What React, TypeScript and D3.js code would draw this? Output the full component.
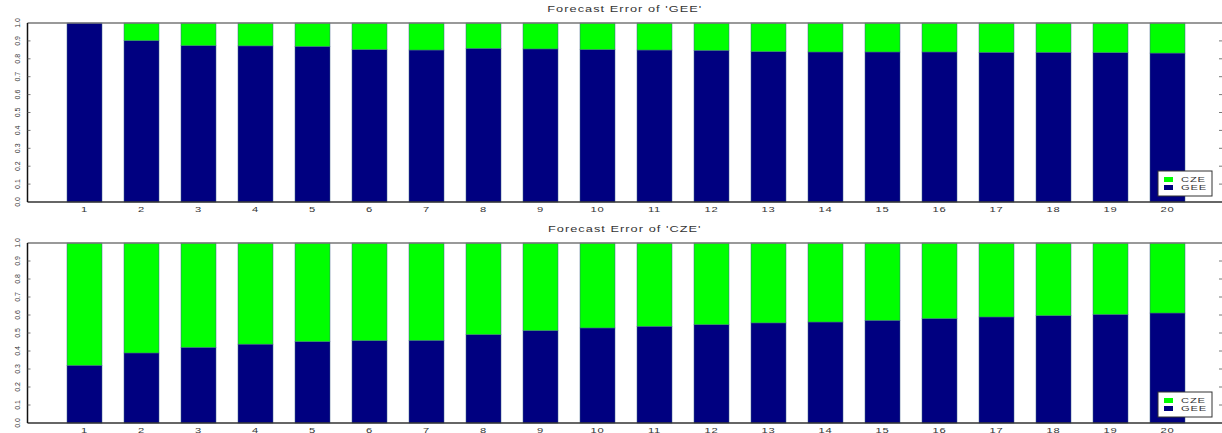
import React, { useEffect, useRef } from 'react';
import * as d3 from 'd3';

const periods = ['1', '2', '3', '4', '5', '6', '7', '8', '9', '10', '11', '12', '13', '14', '15', '16', '17', '18', '19', '20'];
const seriesNames = ['GEE', 'CZE'];
const yTicks = [0, 0.1, 0.2, 0.3, 0.4, 0.5, 0.6, 0.7, 0.8, 0.9, 1.0];

// share of forecast error variance explained by GEE (CZE is the rest up to 1)
const geeShareOfGee = [1.0, 0.901, 0.873, 0.872, 0.869, 0.851, 0.849, 0.858, 0.855, 0.851, 0.849, 0.847, 0.84, 0.838, 0.838, 0.838, 0.836, 0.836, 0.834, 0.832];
const geeShareOfCze = [0.32, 0.389, 0.42, 0.438, 0.452, 0.457, 0.459, 0.491, 0.513, 0.528, 0.537, 0.546, 0.556, 0.561, 0.57, 0.58, 0.589, 0.596, 0.603, 0.611];

const panels = [
  { title: "Forecast Error of 'GEE'", values: geeShareOfGee, top: 23, bottom: 202 },
  { title: "Forecast Error of 'CZE'", values: geeShareOfCze, top: 243, bottom: 423 },
];

const colors: Record<string, string> = { GEE: '#000080', CZE: '#00ff00' };
const FONT = '"Liberation Sans", Arial, sans-serif';

const App: React.FC = () => {
  const svgRef = useRef<SVGSVGElement>(null);

  useEffect(() => {
    if (!svgRef.current) return;
    const svg = d3.select(svgRef.current);
    svg.selectAll('*').remove();

    const xScale = d3.scaleLinear().domain([0, periods.length + 1]).range([27.5, 1224.5]);
    const unit = xScale(1) - xScale(0);
    const barWidth = unit * 0.614;

    panels.forEach(panel => {
      const g = svg.append('g');
      const yScale = d3.scaleLinear().domain([0, 1]).range([panel.bottom, panel.top]);

      const rows = periods.map((p, i) => ({ period: p, GEE: panel.values[i], CZE: 1 - panel.values[i] }));
      const stacked = d3.stack<any>().keys(seriesNames)(rows);

      // title
      g.append('text')
        .attr('transform', `translate(${(xScale(0) + 1222) / 2},${panel.top - 11}) scale(1.5,1)`)
        .attr('text-anchor', 'middle')
        .style('font-family', FONT)
        .style('font-size', '8.5px')
        .style('letter-spacing', '0.7px')
        .style('fill', '#333')
        .text(panel.title);

      // bars
      stacked.forEach(layer => {
        g.append('g')
          .selectAll('rect')
          .data(layer)
          .enter()
          .append('rect')
          .attr('x', (_d, i) => xScale(i + 1) - barWidth / 2)
          .attr('width', barWidth)
          .attr('y', d => yScale(d[1]))
          .attr('height', d => yScale(d[0]) - yScale(d[1]))
          .attr('fill', colors[layer.key])
          .attr('stroke', '#3d5f86')
          .attr('stroke-width', 0.5);
      });

      // frame
      g.append('line')
        .attr('x1', xScale(0)).attr('x2', 1222)
        .attr('y1', panel.top).attr('y2', panel.top)
        .attr('stroke', '#777').attr('stroke-width', 1.5);
      g.append('line')
        .attr('x1', xScale(0)).attr('x2', 1222)
        .attr('y1', panel.bottom).attr('y2', panel.bottom)
        .attr('stroke', '#333').attr('stroke-width', 1.5);
      g.append('line')
        .attr('x1', xScale(0)).attr('x2', xScale(0))
        .attr('y1', panel.top).attr('y2', panel.bottom)
        .attr('stroke', '#111').attr('stroke-width', 1.5);

      // y ticks (inside, both sides) and rotated labels
      yTicks.forEach(t => {
        if (t > 0 && t < 1) {
          g.append('line')
            .attr('x1', xScale(0)).attr('x2', xScale(0) + 3)
            .attr('y1', yScale(t)).attr('y2', yScale(t))
            .attr('stroke', '#555').attr('stroke-width', 0.8);
          g.append('line')
            .attr('x1', 1219).attr('x2', 1222)
            .attr('y1', yScale(t)).attr('y2', yScale(t))
            .attr('stroke', '#555').attr('stroke-width', 0.8);
        }
        g.append('text')
          .attr('transform', `translate(20,${yScale(t)}) rotate(-90)`)
          .attr('text-anchor', 'middle')
          .style('font-family', FONT)
          .style('font-size', '7px')
          .style('fill', '#333')
          .text(d3.format('.1f')(t));
      });

      // x labels
      periods.forEach((p, i) => {
        g.append('text')
          .attr('transform', `translate(${xScale(i + 1)},${panel.bottom + 9.5}) scale(1.6,1)`)
          .attr('text-anchor', 'middle')
          .style('font-family', FONT)
          .style('font-size', '7px')
          .style('letter-spacing', '0.5px')
          .style('fill', '#333')
          .text(p);
      });

      // legend
      const lg = g.append('g').attr('transform', `translate(1158,${panel.bottom - 31})`);
      lg.append('rect')
        .attr('width', 54).attr('height', 25)
        .attr('fill', '#fff').attr('stroke', '#333').attr('stroke-width', 1);
      ['CZE', 'GEE'].forEach((name, i) => {
        lg.append('rect')
          .attr('x', 6).attr('y', 6 + i * 8)
          .attr('width', 9).attr('height', 5)
          .attr('fill', colors[name]);
        lg.append('text')
          .attr('transform', `translate(23,${11 + i * 8}) scale(1.6,1)`)
          .style('font-family', FONT)
          .style('font-size', '7px')
          .style('letter-spacing', '0.5px')
          .style('fill', '#333')
          .text(name);
      });
    });
  }, []);

  return (
    <svg
      ref={svgRef}
      width={1222}
      height={433}
      style={{ position: 'absolute', left: 0, top: 0, background: '#fff' }}
    />
  );
};

export default App;
